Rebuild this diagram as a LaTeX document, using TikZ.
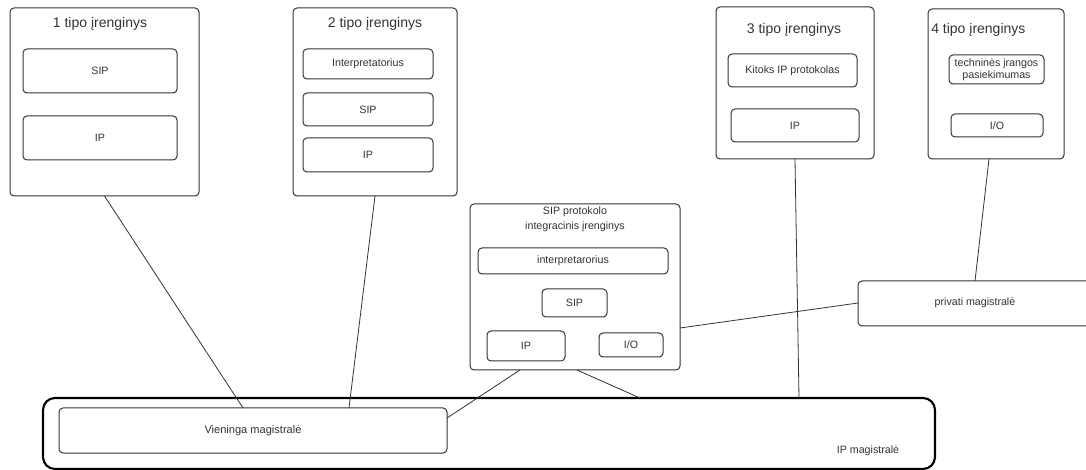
\documentclass[tikz,border=0pt]{standalone}
\usepackage{fontspec}
\setmainfont{Liberation Sans}
\usetikzlibrary{calc}
\definecolor{ink}{HTML}{333333}
\tikzset{
  px/.style={x=0.75pt,y=-0.75pt},
  devbox/.style={draw=ink,line width=0.75pt,rounded corners=3pt,inner sep=0pt,outer sep=0pt},
  partbox/.style={draw=ink,line width=0.75pt,rounded corners=3pt,inner sep=0pt,outer sep=0pt,text=ink,font=\fontsize{8}{9.5}\selectfont,align=center},
  ttl/.style={text=ink,font=\fontsize{10.5}{12}\selectfont,inner sep=0pt,align=center},
  bus/.style={draw=black,line width=1.6pt,rounded corners=9pt,inner sep=0pt,outer sep=0pt},
  wire/.style={draw=ink,line width=0.6pt}
}
\newcommand\rbox[7]{\node[#2, minimum width={(#5-#3)*0.75pt}, minimum height={(#6-#4)*0.75pt}] (#1) at ({(#3+#5)/2},{(#4+#6)/2}) {#7};}
\begin{document}
\begin{tikzpicture}[px]
\useasboundingbox (0,0) rectangle (1086,470);
% outer IP bus
\rbox{ipbus}{bus}{43}{398}{935}{469}{}
\node[ttl,font=\fontsize{8}{9}\selectfont] (iplbl) at (868,451) {IP magistralė};
\rbox{vien}{partbox,font=\fontsize{8.3}{10}\selectfont}{59}{408}{447}{453}{Vieninga magistralė}
% device 1
\rbox{d1}{devbox}{10}{8}{199}{196}{}
\node[ttl] (t1) at (100,24) {1 tipo įrenginys};
\rbox{d1sip}{partbox}{23}{49}{177}{93}{SIP}
\rbox{d1ip}{partbox}{23}{116}{177}{160}{IP}
% device 2
\rbox{d2}{devbox}{293}{8}{457}{196}{}
\node[ttl] (t2) at (375,24) {2 tipo įrenginys};
\rbox{d2int}{partbox}{303}{49}{433}{79}{Interpretatorius}
\rbox{d2sip}{partbox}{303}{93}{433}{126}{SIP}
\rbox{d2ip}{partbox}{303}{138}{433}{172}{IP}
% device 3
\rbox{d3}{devbox}{716}{7}{874}{159}{}
\node[ttl] (t3) at (794,30) {3 tipo įrenginys};
\rbox{d3kit}{partbox}{728}{54}{857}{87}{Kitoks IP protokolas}
\rbox{d3ip}{partbox}{731}{109}{859}{142}{IP}
% device 4
\rbox{d4}{devbox}{928}{9}{1064}{159}{}
\node[ttl,anchor=west] (t4) at (931,30) {4 tipo įrenginys};
\rbox{d4tech}{partbox,font=\fontsize{8}{9}\selectfont}{949}{55}{1044}{84}{techninės įrangos\\pasiekimumas}
\rbox{d4io}{partbox}{951}{114}{1043}{137}{I/O}
% integration device
\rbox{integ}{devbox}{470}{204}{680}{370}{}
\node[ttl,font=\fontsize{8}{11.2}\selectfont] (ti) at (575,219.5) {SIP protokolo\\integracinis įrenginys};
\rbox{iint}{partbox}{478}{248}{668}{274}{interpretarorius}
\rbox{isip}{partbox}{542}{289}{607}{317}{SIP}
\rbox{iip}{partbox}{487}{331}{565}{361}{IP}
\rbox{iio}{partbox}{599}{333}{663}{357}{I/O}
% private bus
\rbox{priv}{partbox}{858}{281}{1092}{326}{}
\node[ttl,font=\fontsize{8}{9}\selectfont] (plbl) at (975,303) {privati magistralė};
% connectors
\draw[wire] (d1.south) -- ($(vien.north west)+(184,0)$);
\draw[wire] (d2.south) -- ($(vien.north west)+(290,0)$);
\draw[wire] ($(vien.north east)+(0,10)$) -- ($(integ.south west)+(50,0)$);
\draw[wire] ($(integ.south west)+(107,0)$) -- ($(ipbus.north west)+(597,0)$);
\draw[wire] (d3.south) -- ($(ipbus.north west)+(756,0)$);
\draw[wire] ($(d4.south)+(-7,0)$) -- ($(priv.north west)+(117,0)$);
\draw[wire] ($(integ.north east)+(0,124)$) -- ($(priv.north west)+(0,22)$);
\end{tikzpicture}
\end{document}
